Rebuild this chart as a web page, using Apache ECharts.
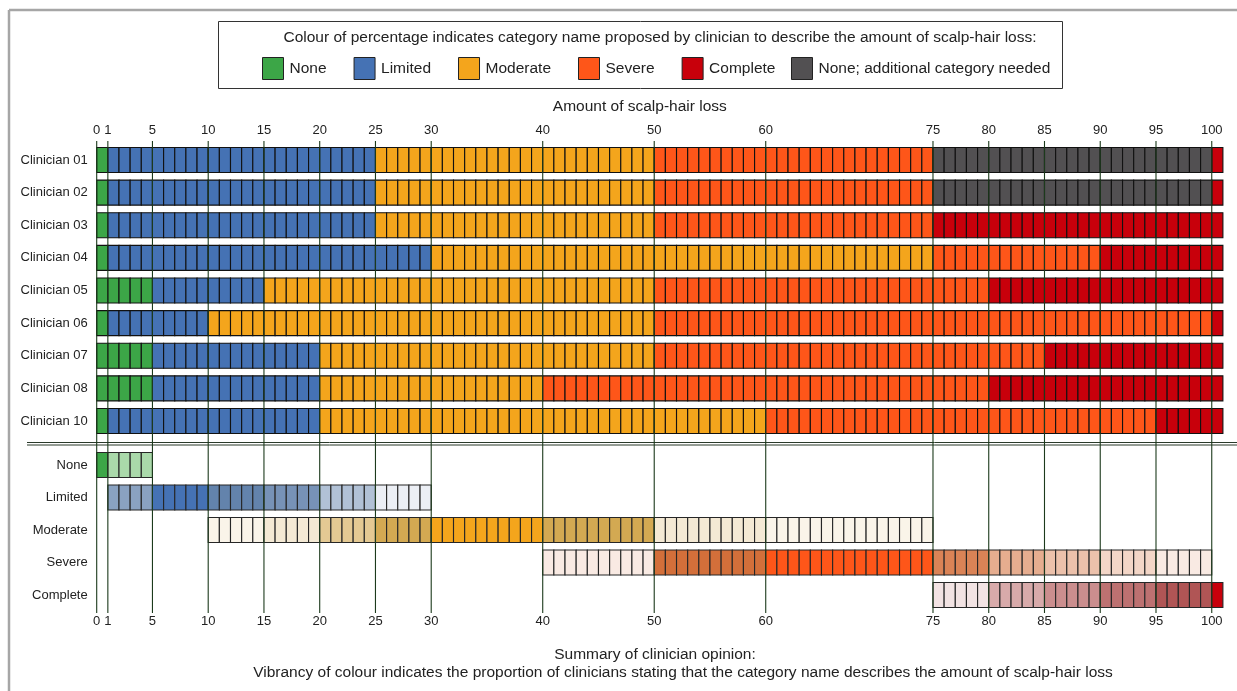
<!DOCTYPE html>
<html><head><meta charset="utf-8">
<script src="https://cdn.jsdelivr.net/npm/echarts@6/dist/echarts.min.js"></script>
<style>html,body{margin:0;padding:0;background:#fff}#chart{width:1237px;height:691px}</style>
</head><body><div id="chart"></div>
<script>
const clinicians = ['Clinician 01','Clinician 02','Clinician 03','Clinician 04','Clinician 05','Clinician 06','Clinician 07','Clinician 08','Clinician 10'];
const categories = ['None','Limited','Moderate','Severe','Complete','None; additional category needed'];
const summaryRows = ['None','Limited','Moderate','Severe','Complete'];
const tickValues = [0,1,5,10,15,20,25,30,40,50,60,75,80,85,90,95,100];
// Each clinician: [first percentage of band, category index]
const clin01 = [[0,0],[1,1],[25,2],[50,3],[75,5],[100,4]];
const clin02 = [[0,0],[1,1],[25,2],[50,3],[75,5],[100,4]];
const clin03 = [[0,0],[1,1],[25,2],[50,3],[75,4]];
const clin04 = [[0,0],[1,1],[30,2],[75,3],[90,4]];
const clin05 = [[0,0],[5,1],[15,2],[50,3],[80,4]];
const clin06 = [[0,0],[1,1],[10,2],[50,3],[100,4]];
const clin07 = [[0,0],[5,1],[20,2],[50,3],[85,4]];
const clin08 = [[0,0],[5,1],[20,2],[40,3],[80,4]];
const clin10 = [[0,0],[1,1],[20,2],[60,3],[95,4]];
const clinicianBands = [clin01,clin02,clin03,clin04,clin05,clin06,clin07,clin08,clin10];
const percentages = []; for (let v = 0; v <= 100; v++) percentages.push(v);

const baseColors = ['#3ca647','#4572b4','#f4a51c','#fe5619','#c8000b','#525052'];
const summaryTones = [[0,140,0],[80,115,162],[206,158,60],[205,90,30],[137,0,0]];
const FONT = '"Liberation Sans", Arial, sans-serif';
const BIG = 15.5;
const CELL_H = 25;

function categoryAt(bands, v){ let c = bands[0][1]; bands.forEach(b => { if (v >= b[0]) c = b[1]; }); return c; }
const cellData = categories.map(() => []);
clinicianBands.forEach((bands,row) => percentages.forEach(v => cellData[categoryAt(bands,v)].push([v,row])));
const summaryData = summaryRows.map(() => []);
summaryRows.forEach((name,k) => {
  const counts = percentages.map(v => clinicianBands.filter(b => categoryAt(b,v) === k).length);
  const maxC = Math.max.apply(null, counts);
  percentages.forEach((v,i) => { if (counts[i] > 0) summaryData[k].push([v,k,counts[i]/maxC]); });
});
function summaryFill(k,p){
  if (p >= 1) return baseColors[k];
  const t = summaryTones[k];
  return 'rgb(' + t.map(c => Math.round(255 - (255 - c) * p)).join(',') + ')';
}
function cellShape(api){
  const c = api.coord([api.value(0), api.value(1)]);
  const w = api.size([1,0])[0];
  return {x:c[0], y:c[1]-CELL_H/2, width:w, height:CELL_H};
}

const series = [];
categories.forEach((name,k) => series.push({
  type:'custom', name:name, xAxisIndex:0, yAxisIndex:0, data:cellData[k], z:2, silent:true,
  itemStyle:{color:baseColors[k]},
  renderItem:(params,api) => ({type:'rect', shape:cellShape(api), style:{fill:baseColors[k], stroke:'#111', lineWidth:1.1}})
}));
summaryRows.forEach((name,k) => series.push({
  type:'custom', name:name+' (summary)', xAxisIndex:1, yAxisIndex:1, data:summaryData[k], z:2, silent:true,
  renderItem:(params,api) => ({type:'rect', shape:cellShape(api), style:{fill:summaryFill(k, api.value(2)), stroke:'#262626', lineWidth:1.1}})
}));
series.push({
  type:'custom', name:'ticklines', xAxisIndex:2, yAxisIndex:2, z:5, silent:true,
  data: tickValues.map(v => [v,0]),
  renderItem:(params,api) => {
    const a = api.coord([api.value(0),1]), b = api.coord([api.value(0),0]);
    return {type:'line', shape:{x1:a[0],y1:a[1],x2:a[0],y2:b[1]}, style:{stroke:'#1c3a1c', lineWidth:1.1}};
  }
});

const gridL = 96.7, gridW = 1126.2;
const labelStyle = {fontSize:13, color:'#222', fontFamily:FONT};
const legendBase = {
  top:57, padding:0, itemWidth:21, itemHeight:22, itemGap:27, icon:'rect',
  selectedMode:false,
  itemStyle:{borderColor:'#222', borderWidth:1},
  textStyle:{fontSize:BIG, color:'#222', fontFamily:FONT, padding:[0,0,0,1]}
};
const legendItems = categories.map((c,i) => ({name:c, itemStyle:{color:baseColors[i]}}));
const option = {
  animation:false,
  textStyle:{fontFamily:FONT},
  grid:[
    {left:gridL, width:gridW, top:143.7, height:293.6},
    {left:gridL, width:gridW, top:448.75, height:162.5},
    {left:gridL, width:gridW, top:141, height:472}
  ],
  xAxis:[
    {gridIndex:0, type:'value', min:0, max:101, show:false},
    {gridIndex:1, type:'value', min:0, max:101, show:false},
    {gridIndex:2, type:'value', min:0, max:101, position:'top',
     axisLine:{show:false}, axisTick:{show:false}, splitLine:{show:false},
     axisLabel:Object.assign({customValues:tickValues, margin:4}, labelStyle),
     name:'Amount of scalp-hair loss', nameLocation:'middle', nameGap:26,
     nameTextStyle:{fontSize:BIG, color:'#222', fontFamily:FONT, padding:[0,40,0,0]}},
    {gridIndex:2, type:'value', min:0, max:101, position:'bottom',
     axisLine:{show:false}, axisTick:{show:false}, splitLine:{show:false},
     axisLabel:Object.assign({customValues:tickValues, margin:2}, labelStyle)}
  ],
  yAxis:[
    {gridIndex:0, type:'category', data:clinicians, inverse:true, axisLine:{show:false}, axisTick:{show:false}, splitLine:{show:false}, axisLabel:Object.assign({margin:9}, labelStyle)},
    {gridIndex:1, type:'category', data:summaryRows, inverse:true, axisLine:{show:false}, axisTick:{show:false}, splitLine:{show:false}, axisLabel:Object.assign({margin:9}, labelStyle)},
    {gridIndex:2, type:'value', min:0, max:1, show:false}
  ],
  legend:[
    Object.assign({left:262, data:legendItems.slice(0,5)}, legendBase),
    Object.assign({left:791, data:legendItems.slice(5)}, legendBase)
  ],
  graphic:[
    {type:'line', silent:true, shape:{x1:9,y1:10,x2:1237,y2:10}, style:{stroke:'#a6a6a6', lineWidth:2.5}},
    {type:'line', silent:true, shape:{x1:9,y1:10,x2:9,y2:691}, style:{stroke:'#a6a6a6', lineWidth:2.5}},
    {type:'rect', silent:true, shape:{x:218.5,y:21.5,width:844,height:67}, style:{fill:'none', stroke:'#333', lineWidth:1}},
    {type:'text', silent:true, x:660, y:38, style:{text:'Colour of percentage indicates category name proposed by clinician to describe the amount of scalp-hair loss:', font:BIG+'px '+FONT, fill:'#222', align:'center', verticalAlign:'middle'}},
    {type:'line', silent:true, shape:{x1:27,y1:442.5,x2:1237,y2:442.5}, style:{stroke:'#2a3a2a', lineWidth:1}},
    {type:'line', silent:true, shape:{x1:27,y1:445,x2:1237,y2:445}, style:{stroke:'#2a3a2a', lineWidth:1}},
    {type:'text', silent:true, x:655, y:655, style:{text:'Summary of clinician opinion:', font:BIG+'px '+FONT, fill:'#222', align:'center', verticalAlign:'middle'}},
    {type:'text', silent:true, x:683, y:673, style:{text:'Vibrancy of colour indicates the proportion of clinicians stating that the category name describes the amount of scalp-hair loss', font:BIG+'px '+FONT, fill:'#222', align:'center', verticalAlign:'middle'}}
  ],
  series:series
};
const chart = echarts.init(document.getElementById('chart'), null, {renderer:'canvas'});
chart.setOption(option);
</script></body></html>
